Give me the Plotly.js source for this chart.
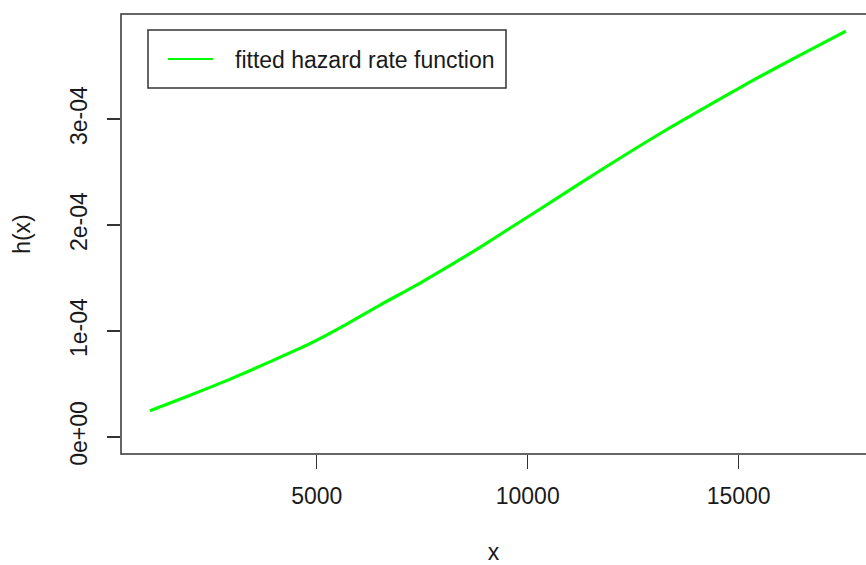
<!DOCTYPE html>
<html>
<head>
<meta charset="utf-8">
<script src="https://cdn.plot.ly/plotly-3.0.1.min.js"></script>
<style>html,body{margin:0;padding:0;background:#fff;}#chart{width:866px;height:565px;}</style>
</head>
<body>
<div id="chart"></div>
<script>
// Data
const xValues = [1050, 2000, 2950, 3900, 4850, 5550, 6500, 7450, 8400, 8870, 9820, 10770, 11710, 13210, 14790, 15270, 16400, 17540];
const hValues = [2.48e-5, 3.94e-5, 5.46e-5, 7.11e-5, 8.83e-5, 1.030e-4, 1.245e-4, 1.452e-4, 1.675e-4, 1.790e-4, 2.031e-4, 2.272e-4, 2.512e-4, 2.880e-4, 3.242e-4, 3.350e-4, 3.592e-4, 3.830e-4];
const seriesName = "fitted hazard rate function";
const xTickVals = [5000, 10000, 15000];
const xTickText = ["5000", "10000", "15000"];
const yTickVals = [0, 1e-4, 2e-4, 3e-4];
const yTickText = ["0e+00", "1e-04", "2e-04", "3e-04"];
const xTitle = "x";
const yTitle = "h(x)";

const FONT = "Liberation Sans, Arial, sans-serif";
const TXT = "#1a1a1a";
const AX = "#333333";

const trace = {
  x: xValues,
  y: hValues,
  type: "scatter",
  mode: "lines",
  name: seriesName,
  line: {color: "#00ff00", width: 3.2, shape: "spline", smoothing: 0.6},
  showlegend: false
};

const layout = {
  width: 866,
  height: 565,
  margin: {l: 121, r: 0, t: 14, b: 111, pad: 0},
  paper_bgcolor: "#ffffff",
  plot_bgcolor: "#ffffff",
  font: {family: FONT, size: 23, color: TXT},
  xaxis: {
    range: [362, 18017],
    showgrid: false,
    zeroline: false,
    showline: false,
    ticks: "outside",
    ticklen: 14,
    tickwidth: 1.5,
    tickcolor: AX,
    tickvals: xTickVals,
    ticktext: xTickText,
    tickfont: {family: FONT, size: 23, color: TXT},
    ticklabelstandoff: 7,
    automargin: false,
    title: {text: xTitle, font: {family: FONT, size: 23, color: TXT}, standoff: 40}
  },
  yaxis: {
    range: [-1.604e-5, 3.991e-4],
    showgrid: false,
    zeroline: false,
    showline: false,
    ticks: "outside",
    ticklen: 13,
    tickwidth: 1.5,
    tickcolor: AX,
    tickvals: yTickVals,
    ticktext: yTickText,
    tickangle: -90,
    tickfont: {family: FONT, size: 23, color: TXT},
    ticklabelstandoff: 11,
    automargin: false,
    title: {text: yTitle, font: {family: FONT, size: 23, color: TXT}, standoff: 28}
  },
  shapes: [
    {type: "rect", xref: "paper", yref: "paper", x0: 0, x1: 1.02, y0: 0, y1: 1,
     line: {color: AX, width: 1.5}, fillcolor: "rgba(0,0,0,0)", layer: "above"},
    // legend box
    {type: "rect", xref: "paper", yref: "paper",
     x0: (148 - 121) / 745, x1: (506 - 121) / 745,
     y0: (454 - 88) / 440, y1: (454 - 30) / 440,
     line: {color: AX, width: 1.5}, fillcolor: "#ffffff", layer: "above"},
    // legend line sample
    {type: "line", xref: "paper", yref: "paper",
     x0: (168 - 121) / 745, x1: (213 - 121) / 745,
     y0: (454 - 59) / 440, y1: (454 - 59) / 440,
     line: {color: "#00ff00", width: 2}, layer: "above"}
  ],
  annotations: [
    {xref: "paper", yref: "paper", x: (233 - 121) / 745, y: (454 - 60) / 440,
     xanchor: "left", yanchor: "middle", showarrow: false,
     text: seriesName, font: {family: FONT, size: 23, color: TXT}}
  ]
};

Plotly.newPlot("chart", [trace], layout, {displayModeBar: false, staticPlot: true});
</script>
</body>
</html>
